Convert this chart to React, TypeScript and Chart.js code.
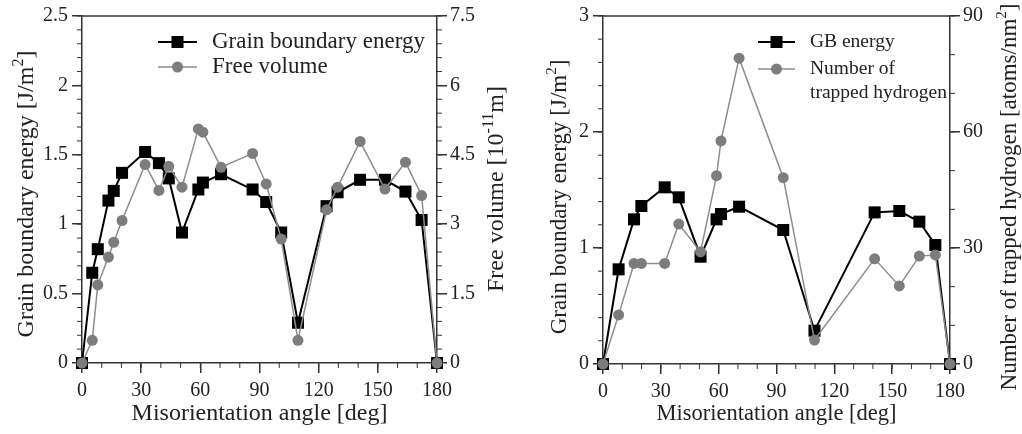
import React, { useEffect, useRef } from "react";
import { Chart, registerables } from "chart.js";
Chart.register(...registerables);

const FONT = "'Liberation Serif', 'Times New Roman', Times, serif";
const TEXT = "#222";
const AXIS = "#333";
const GRAY_PT = "#7d7d7d";
const GRAY_LN = "#8c8c8c";

// ---- Left panel data ----
const angles1 = [0, 5.2, 8, 13.4, 16.1, 20.3, 32, 39, 44, 50.7, 59, 61.3, 70.5, 86.5, 93.4, 101, 109.5, 124, 129.6, 141, 153.6, 164, 172.2, 180];
const gbEnergy1 = [0, 0.65, 0.82, 1.17, 1.24, 1.37, 1.52, 1.44, 1.33, 0.94, 1.25, 1.3, 1.36, 1.25, 1.16, 0.94, 0.29, 1.13, 1.23, 1.32, 1.32, 1.235, 1.03, 0];
const freeVolume1 = [0, 0.49, 1.69, 2.29, 2.61, 3.08, 4.29, 3.73, 4.25, 3.8, 5.06, 4.99, 4.23, 4.53, 3.87, 2.68, 0.49, 3.31, 3.8, 4.79, 3.76, 4.34, 3.62, 0];

// ---- Right panel data ----
const angles2 = [0, 8.1, 16.1, 19.9, 32, 39.3, 50.6, 58.9, 61.2, 70.6, 93.5, 109.7, 140.9, 153.7, 164.1, 172.4, 180];
const gbEnergy2 = [0, 0.816, 1.247, 1.362, 1.523, 1.437, 0.925, 1.247, 1.293, 1.356, 1.155, 0.287, 1.307, 1.319, 1.227, 1.026, 0];
const hydrogen2 = [0, 12.7, 26.0, 26.0, 26.0, 36.2, 29.0, 48.7, 57.7, 79.1, 48.2, 6.2, 27.2, 20.2, 27.9, 28.2, 0];

// ---- Tick labels ----
const xTicks = [0, 30, 60, 90, 120, 150, 180];
const yTicks1 = [0, 0.5, 1, 1.5, 2, 2.5];
const y2Ticks1 = [0, 1.5, 3, 4.5, 6, 7.5];
const yTicks2 = [0, 1, 2, 3];
const y2Ticks2 = [0, 30, 60, 90];

type Seg = { t: string; sup?: boolean };

function drawRich(ctx: CanvasRenderingContext2D, segs: Seg[], cx: number, cy: number, size: number, rot: number) {
  ctx.save();
  ctx.translate(cx, cy);
  ctx.rotate(rot);
  const big = `${size}px ${FONT}`;
  const small = `${Math.round(size * 0.65)}px ${FONT}`;
  let total = 0;
  for (const s of segs) {
    ctx.font = s.sup ? small : big;
    total += ctx.measureText(s.t).width;
  }
  let x = -total / 2;
  ctx.textBaseline = "middle";
  ctx.textAlign = "left";
  ctx.fillStyle = TEXT;
  for (const s of segs) {
    ctx.font = s.sup ? small : big;
    ctx.fillText(s.t, x, s.sup ? -size * 0.33 : 0);
    x += ctx.measureText(s.t).width;
  }
  ctx.restore();
}

type LegendItem = { style: "rect" | "circle"; x1: number; x2: number; y: number; tx: number; lines: string[] };

type PanelCfg = {
  width: number;
  left: number;
  padTop: number;
  xHeight: number;
  yWidth: number;
  y2Width: number;
  angles: number[];
  black: number[];
  gray: number[];
  blackLabel: string;
  grayLabel: string;
  yMax: number;
  y2Max: number;
  yTicks: number[];
  y2Ticks: number[];
  yMinor: number;
  y2Minor: number;
  yTitle: Seg[];
  yTitlePos: [number, number];
  y2Title: Seg[];
  y2TitlePos: [number, number];
  yTitleSize: number;
  xTitleSize: number;
  legendSize: number;
  legendGap: number;
  legend: LegendItem[];
};

function makePlugin(cfg: PanelCfg) {
  return {
    id: "decor",
    beforeDatasetsDraw(chart: any) {
      const ctx = chart.ctx as CanvasRenderingContext2D;
      const a = chart.chartArea;
      ctx.save();
      ctx.strokeStyle = AXIS;
      ctx.lineWidth = 1.5;
      ctx.beginPath();
      ctx.moveTo(a.left, a.top);
      ctx.lineTo(a.right, a.top);
      ctx.stroke();
      const minor = (id: string, step: number, len: number) => {
        const s = chart.scales[id];
        const n = Math.round((s.max - s.min) / step);
        ctx.lineWidth = 1;
        for (let i = 0; i <= n; i++) {
          const v = s.min + i * step;
          const p = s.getPixelForValue(v);
          ctx.beginPath();
          if (id === "x") {
            ctx.moveTo(p, a.bottom);
            ctx.lineTo(p, a.bottom + len);
          } else if (id === "y") {
            ctx.moveTo(a.left, p);
            ctx.lineTo(a.left - len, p);
          } else {
            ctx.moveTo(a.right, p);
            ctx.lineTo(a.right + len, p);
          }
          ctx.stroke();
        }
      };
      minor("x", 10, 5);
      minor("y", cfg.yMinor, 5);
      minor("y2", cfg.y2Minor, 5);
      ctx.restore();
    },
    afterDraw(chart: any) {
      const ctx = chart.ctx as CanvasRenderingContext2D;
      drawRich(ctx, cfg.yTitle, cfg.yTitlePos[0], cfg.yTitlePos[1], cfg.yTitleSize, -Math.PI / 2);
      drawRich(ctx, cfg.y2Title, cfg.y2TitlePos[0], cfg.y2TitlePos[1], cfg.yTitleSize, -Math.PI / 2);
      for (const it of cfg.legend) {
        ctx.save();
        const isRect = it.style === "rect";
        ctx.strokeStyle = isRect ? "#000" : GRAY_LN;
        ctx.lineWidth = isRect ? 2 : 1.5;
        ctx.beginPath();
        ctx.moveTo(it.x1, it.y);
        ctx.lineTo(it.x2, it.y);
        ctx.stroke();
        const mx = (it.x1 + it.x2) / 2;
        if (isRect) {
          ctx.fillStyle = "#000";
          ctx.fillRect(mx - 6, it.y - 6, 12, 12);
        } else {
          ctx.fillStyle = GRAY_PT;
          ctx.beginPath();
          ctx.arc(mx, it.y, 5.5, 0, Math.PI * 2);
          ctx.fill();
        }
        ctx.fillStyle = TEXT;
        ctx.font = `${cfg.legendSize}px ${FONT}`;
        ctx.textBaseline = "middle";
        ctx.textAlign = "left";
        it.lines.forEach((ln, i) => ctx.fillText(ln, it.tx, it.y + i * cfg.legendGap));
        ctx.restore();
      }
    },
  };
}

function Panel({ cfg }: { cfg: PanelCfg }) {
  const ref = useRef<HTMLCanvasElement | null>(null);
  useEffect(() => {
    if (!ref.current) return;
    const tickFont = { family: FONT, size: 20 };
    const gridCommon = { drawOnChartArea: false, drawTicks: true, tickLength: 10, color: AXIS, lineWidth: 1.5 };
    const border = { display: true, color: AXIS, width: 1.5 };
    const chart = new Chart(ref.current, {
      type: "line",
      data: {
        datasets: [
          {
            label: cfg.grayLabel,
            data: cfg.angles.map((x, i) => ({ x, y: cfg.gray[i] })),
            yAxisID: "y2",
            borderColor: GRAY_LN,
            borderWidth: 1.5,
            backgroundColor: GRAY_PT,
            pointBackgroundColor: GRAY_PT,
            pointBorderColor: GRAY_PT,
            pointBorderWidth: 0,
            pointStyle: "circle",
            pointRadius: 5.5,
            tension: 0,
            clip: false,
            order: 0,
          },
          {
            label: cfg.blackLabel,
            data: cfg.angles.map((x, i) => ({ x, y: cfg.black[i] })),
            yAxisID: "y",
            borderColor: "#000",
            borderWidth: 2,
            backgroundColor: "#000",
            pointBackgroundColor: "#000",
            pointBorderColor: "#000",
            pointBorderWidth: 0,
            pointStyle: "rect",
            pointRadius: 8.5,
            tension: 0,
            clip: false,
            order: 1,
          },
        ] as any,
      },
      options: {
        animation: false,
        responsive: false,
        devicePixelRatio: 1,
        layout: { padding: { top: cfg.padTop, left: 0, right: 0, bottom: 0 } },
        plugins: { legend: { display: false }, tooltip: { enabled: false } },
        scales: {
          x: {
            type: "linear",
            position: "bottom",
            min: 0,
            max: 180,
            afterBuildTicks: (s: any) => {
              s.ticks = xTicks.map((v) => ({ value: v }));
            },
            afterFit: (s: any) => {
              s.height = cfg.xHeight;
            },
            grid: gridCommon,
            border,
            ticks: { font: tickFont, color: TEXT, padding: 6, maxRotation: 0, autoSkip: false, callback: (v: any) => String(v) },
            title: {
              display: true,
              text: "Misorientation angle [deg]",
              font: { family: FONT, size: cfg.xTitleSize },
              color: TEXT,
              padding: { top: 0, bottom: 6 },
            },
          },
          y: {
            type: "linear",
            position: "left",
            min: 0,
            max: cfg.yMax,
            afterBuildTicks: (s: any) => {
              s.ticks = cfg.yTicks.map((v) => ({ value: v }));
            },
            afterFit: (s: any) => {
              s.width = cfg.yWidth;
            },
            grid: gridCommon,
            border,
            ticks: { font: tickFont, color: TEXT, padding: 4, autoSkip: false, callback: (v: any) => String(v) },
          },
          y2: {
            type: "linear",
            position: "right",
            min: 0,
            max: cfg.y2Max,
            afterBuildTicks: (s: any) => {
              s.ticks = cfg.y2Ticks.map((v) => ({ value: v }));
            },
            afterFit: (s: any) => {
              s.width = cfg.y2Width;
            },
            grid: gridCommon,
            border,
            ticks: { font: tickFont, color: TEXT, padding: 3, autoSkip: false, callback: (v: any) => String(v) },
          },
        },
      } as any,
      plugins: [makePlugin(cfg)],
    });
    return () => chart.destroy();
  }, [cfg]);
  return (
    <canvas
      ref={ref}
      width={cfg.width}
      height={434}
      style={{ position: "absolute", left: cfg.left, top: 0, width: cfg.width, height: 434 }}
    />
  );
}

const leftCfg: PanelCfg = {
  width: 518,
  left: 0,
  padTop: 15,
  xHeight: 71,
  yWidth: 82,
  y2Width: 81,
  angles: angles1,
  black: gbEnergy1,
  gray: freeVolume1,
  blackLabel: "Grain boundary energy",
  grayLabel: "Free volume",
  yMax: 2.5,
  y2Max: 7.5,
  yTicks: yTicks1,
  y2Ticks: y2Ticks1,
  yMinor: 0.1,
  y2Minor: 0.3,
  yTitle: [{ t: "Grain boundary energy [J/m" }, { t: "2", sup: true }, { t: "]" }],
  yTitlePos: [27, 194],
  y2Title: [{ t: "Free volume [10" }, { t: "-11", sup: true }, { t: "m]" }],
  y2TitlePos: [497, 189],
  yTitleSize: 24,
  xTitleSize: 24,
  legendSize: 23,
  legendGap: 25,
  legend: [
    { style: "rect", x1: 158, x2: 197, y: 42, tx: 212, lines: ["Grain boundary energy"] },
    { style: "circle", x1: 158, x2: 197, y: 67, tx: 212, lines: ["Free volume"] },
  ],
};

const rightCfg: PanelCfg = {
  width: 504,
  left: 518,
  padTop: 16,
  xHeight: 70,
  yWidth: 85,
  y2Width: 72,
  angles: angles2,
  black: gbEnergy2,
  gray: hydrogen2,
  blackLabel: "GB energy",
  grayLabel: "Number of trapped hydrogen",
  yMax: 3,
  y2Max: 90,
  yTicks: yTicks2,
  y2Ticks: y2Ticks2,
  yMinor: 0.2,
  y2Minor: 10,
  yTitle: [{ t: "Grain boundary energy [J/m" }, { t: "2", sup: true }, { t: "]" }],
  yTitlePos: [42, 197],
  y2Title: [{ t: "Number of trapped hydrogen [atoms/nm" }, { t: "2", sup: true }, { t: "]" }],
  y2TitlePos: [492, 197],
  yTitleSize: 23,
  xTitleSize: 22.5,
  legendSize: 19.5,
  legendGap: 24,
  legend: [
    { style: "rect", x1: 240, x2: 277, y: 42, tx: 292, lines: ["GB energy"] },
    { style: "circle", x1: 240, x2: 277, y: 69, tx: 292, lines: ["Number of", "trapped hydrogen"] },
  ],
};

export default function App() {
  return (
    <div style={{ position: "absolute", left: 0, top: 0, width: 1022, height: 434, background: "#fff" }}>
      <Panel cfg={leftCfg} />
      <Panel cfg={rightCfg} />
    </div>
  );
}
